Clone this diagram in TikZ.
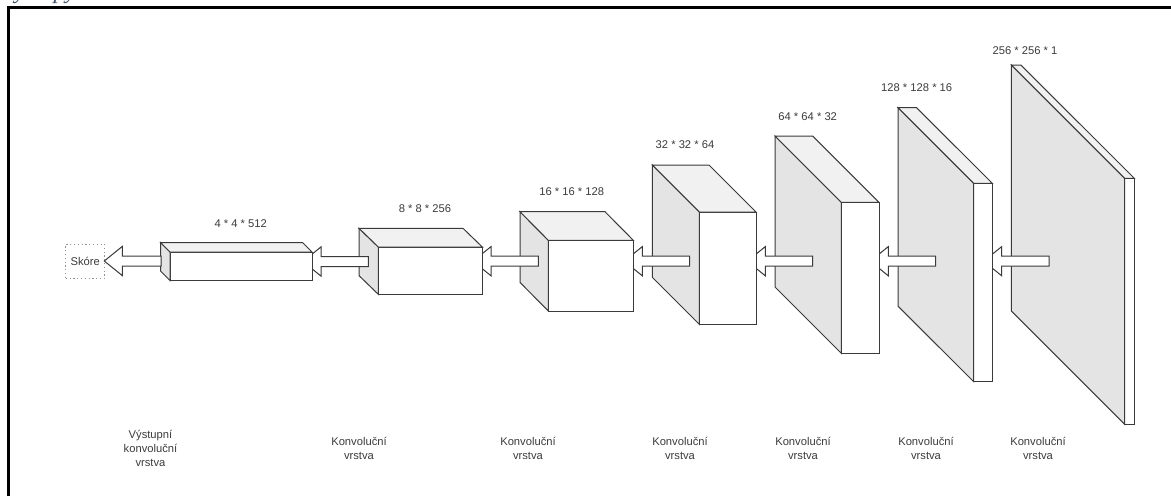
\documentclass[tikz,border=0pt]{standalone}
\usepackage{fontspec}
\setmainfont{Liberation Sans}
\newfontfamily\capserif{Liberation Serif}
\usetikzlibrary{calc}
\definecolor{edgecol}{HTML}{3A3A3A}
\definecolor{textcol}{HTML}{3C3C3C}
\definecolor{sidecol}{HTML}{E4E4E4}
\definecolor{topcol}{HTML}{F1F1F1}
\definecolor{capcol}{HTML}{44546A}
\tikzset{
  edge/.style={draw=edgecol,line width=1pt,line join=miter},
  frontface/.style={edge,fill=white,inner sep=0pt,outer sep=0pt,anchor=north west},
  sideface/.style={edge,fill=sidecol},
  topface/.style={edge,fill=topcol},
  blockarrow/.style={edge,fill=white},
  lbl/.style={text=textcol,font=\fontsize{11.2}{14}\selectfont,align=center,inner sep=0pt},
  scorebox/.style={lbl,draw=gray!85,line width=1pt,dash pattern=on 1.2pt off 2.6pt,minimum width=39pt,minimum height=34pt},
  frame/.style={draw=black,line width=3pt}
}
% #1 id, (#2,#3) back top left, (#4,#5) front top left, #6 width, #7 height
\newcommand\cuboid[7]{%
  \node[frontface,minimum width=#6pt,minimum height=#7pt] (#1) at (#4,#5) {};
  \coordinate (#1bt) at (#2,#3);
  \coordinate (#1bb) at ($(#1bt)+(0pt,-#7pt)$);
  \coordinate (#1br) at ($(#1bt)+(#6pt,0pt)$);
  \path[sideface] (#1bt) -- (#1.north west) -- (#1.south west) -- (#1bb) -- cycle;
  \path[topface] (#1bt) -- (#1br) -- (#1.north east) -- (#1.north west) -- cycle;
}
% #1 tail coordinate, #2 tip coordinate
\newcommand\blockarrow[2]{%
  \path[blockarrow] let \p1=(#1), \p2=(#2) in
    (\x2,\y2) -- (\x2+18pt,\y2+14.6pt) -- (\x2+18pt,\y2+5pt) -- (\x1,\y2+5pt)
    -- (\x1,\y2-5pt) -- (\x2+18pt,\y2-5pt) -- (\x2+18pt,\y2-14.6pt) -- cycle;
}
\begin{document}
\begin{tikzpicture}[x=1pt,y=-1pt]
\useasboundingbox (0,0) rectangle (1171,496);
\fill[white] (0,0) rectangle (1171,496);
\node[anchor=base west,inner sep=0pt,text=capcol,font=\capserif\itshape\fontsize{24}{24}\selectfont] (cap) at (4,-1.7) {výstupy};
\draw[frame] (8.7,496) -- (8.7,7.5) -- (1171,7.5);

\cuboid{G}{1011.3}{65}{1124.7}{178.3}{9.6}{246}
\coordinate (gs) at (1049,261.2); \coordinate (gt) at (983.7,261.2);
\blockarrow{gs}{gt}
\cuboid{F}{898}{107.7}{973.7}{183.3}{18.6}{198.4}
\coordinate (fs) at (935.7,261.2); \coordinate (ft) at (870.3,261.2);
\blockarrow{fs}{ft}
\cuboid{E}{775}{136}{841.3}{202.3}{37.7}{151}
\coordinate (es) at (812.7,261.2); \coordinate (et) at (747.3,261.2);
\blockarrow{es}{et}
\cuboid{D}{652.3}{165}{699.3}{212}{56.7}{112.3}
\coordinate (ds) at (689.7,261.2); \coordinate (dt) at (624.3,261.2);
\blockarrow{ds}{dt}
\cuboid{C}{520}{211.7}{548.3}{240.3}{85}{70.7}
\coordinate (cs) at (538.3,261.2); \coordinate (ct) at (473,261.2);
\blockarrow{cs}{ct}
\cuboid{B}{359}{228.3}{378.3}{247}{104}{47.3}
\coordinate (bs) at (368.3,261.5); \coordinate (bt) at (303,261.5);
\blockarrow{bs}{bt}
\cuboid{A}{160.5}{242.5}{170}{252}{142}{28.5}

\node[scorebox] (S) at (85.2,261.3) {Skóre};
\coordinate (as) at (161,261); \coordinate (at) at (104.3,261);
\blockarrow{as}{at}

\node[lbl] (dimA) at (240.7,223.3) {4 * 4 * 512};
\node[lbl] (dimB) at (425,209) {8 * 8 * 256};
\node[lbl] (dimC) at (571.7,192) {16 * 16 * 128};
\node[lbl] (dimD) at (685,144.7) {32 * 32 * 64};
\node[lbl] (dimE) at (807.7,116.7) {64 * 64 * 32};
\node[lbl] (dimF) at (916.7,88) {128 * 128 * 16};
\node[lbl] (dimG) at (1025,50.3) {256 * 256 * 1};

\node[lbl] (nameA) at (150.5,448) {Výstupní\\konvoluční\\vrstva};
\node[lbl] (nameB) at (359,448) {Konvoluční\\vrstva};
\node[lbl] (nameC) at (528,448) {Konvoluční\\vrstva};
\node[lbl] (nameD) at (680,448) {Konvoluční\\vrstva};
\node[lbl] (nameE) at (803,448) {Konvoluční\\vrstva};
\node[lbl] (nameF) at (926,448) {Konvoluční\\vrstva};
\node[lbl] (nameG) at (1038,448) {Konvoluční\\vrstva};
\end{tikzpicture}
\end{document}
